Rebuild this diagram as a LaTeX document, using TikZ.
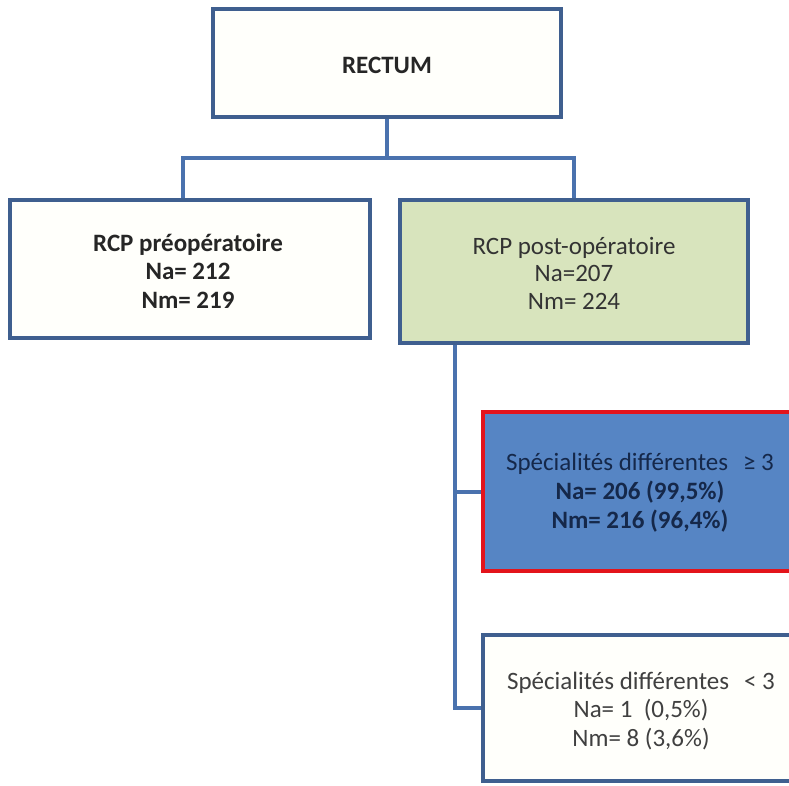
\documentclass[tikz,border=0pt]{standalone}
\usepackage{fontspec}
\setmainfont{Carlito}
\definecolor{frameblue}{HTML}{3F5F8F}
\definecolor{linkblue}{HTML}{4A72AE}
\definecolor{sage}{HTML}{D8E4BD}
\definecolor{steel}{HTML}{5685C4}
\definecolor{alarm}{HTML}{E3141B}
\definecolor{navytext}{HTML}{15284A}
\definecolor{paper}{HTML}{FFFFFB}
\tikzset{
  box/.style={draw=frameblue, line width=3.5pt, fill=paper, inner sep=0pt},
  conn/.style={draw=linkblue, line width=4pt},
  txt/.style={align=center, inner sep=0pt, text=black!85}
}
\begin{document}
\begin{tikzpicture}[x=1pt,y=-1pt]
\useasboundingbox (0,0) rectangle (789,785);
\fill[white] (0,0) rectangle (789,785);

% top level
\node[box, minimum width=348pt, minimum height=108pt] (rect) at (387,63) {};
\node[txt, font=\fontsize{25}{28}\selectfont\bfseries] (recttxt) at (387,65) {RECTUM};

% second level
\node[box, minimum width=360pt, minimum height=138pt] (pre) at (190,269) {};
\node[txt, font=\fontsize{25}{28.5}\selectfont\bfseries] (pretxt) at (188,271)
  {RCP préopératoire\\Na= 212\\Nm= 219};

\node[box, fill=sage, minimum width=348pt, minimum height=143pt] (post) at (574,271.5) {};
\node[txt, text=black!80, font=\fontsize{25}{27.5}\selectfont] (posttxt) at (574,273)
  {RCP post-opératoire\\Na=207\\Nm= 224};

% third level
\node[box, draw=alarm, fill=steel, minimum width=327pt, minimum height=159pt] (hi) at (646.5,491.5) {};
\node[txt, text=navytext, font=\fontsize{25}{29}\selectfont] (hitxt) at (640,493)
  {Spécialités différentes\hspace{15pt}≥ 3\\\textbf{Na= 206 (99,5\%)}\\\textbf{Nm= 216 (96,4\%)}};

\node[box, minimum width=327pt, minimum height=146pt] (lo) at (646.5,708) {};
\node[txt, text=black!75, font=\fontsize{25}{28.5}\selectfont] (lotxt) at (641,711)
  {Spécialités différentes\hspace{15pt}< 3\\Na= 1\ \ (0,5\%)\\Nm= 8 (3,6\%)};

% connectors
\coordinate (split) at (387,158);
\coordinate (trunk) at (455,0);
\draw[conn] (rect.south) -- (split);
\draw[conn] ([xshift=-7pt]pre.north) |- (split) -| (post.north);
\draw[conn] (post.south -| trunk) |- (hi.west);
\draw[conn] (post.south -| trunk) |- (lo.west);
\end{tikzpicture}
\end{document}
